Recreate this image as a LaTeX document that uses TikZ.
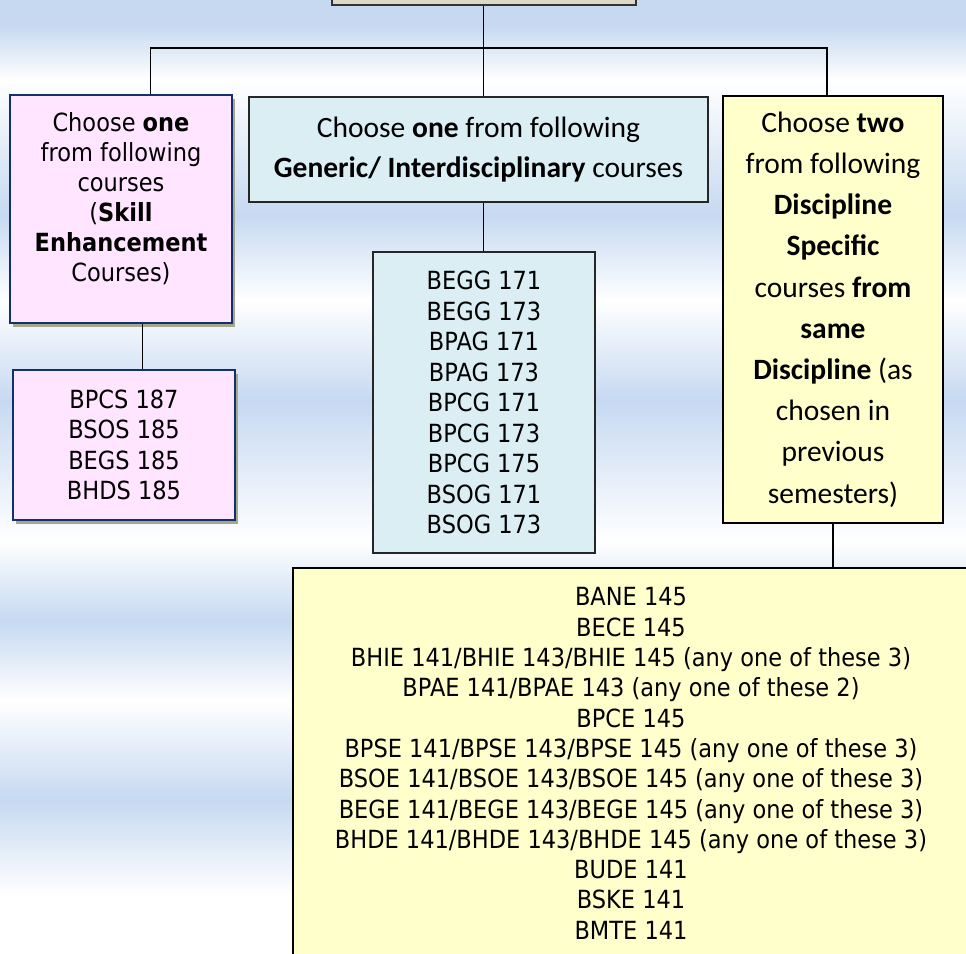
\documentclass[tikz,border=0pt]{standalone}
\usepackage{fontspec}
\setmainfont{DejaVu Sans}[FakeStretch=0.9]
\newfontfamily\calibri{Carlito}
\usetikzlibrary{shadows}
\definecolor{bgblue}{HTML}{C6D9F1}
\definecolor{pinkfill}{HTML}{FFE5FF}
\definecolor{navy}{HTML}{10306E}
\definecolor{shadowgray}{HTML}{A3A88E}
\definecolor{aquafill}{HTML}{DAEEF3}
\definecolor{lemonfill}{HTML}{FFFFCC}
\definecolor{beigefill}{HTML}{DDD9C3}

\begin{document}
\begin{tikzpicture}[x=1pt, y=-1pt, line width=1.75pt,
	skillbox/.style={draw=navy, line width=2pt, fill=pinkfill, drop shadow={shadow xshift=3pt, shadow yshift=-4pt, fill=shadowgray, opacity=1}},
	genbox/.style={draw=black!85, line width=2pt, fill=aquafill},
	discbox/.style={draw=black, line width=2pt, fill=lemonfill},
	tahomatext/.style={align=center, font=\fontsize{25}{30.3}\selectfont},
	calibritext/.style={align=center, font=\calibri\fontsize{29.5}{40}\selectfont}]
	% banded background
	\useasboundingbox (0,0) rectangle (966,953);
	\foreach \ya/\yb/\ca/\cb in {0/25/bgblue/bgblue, 25/80/bgblue/white, 80/215/white/bgblue, 215/300/bgblue/white, 300/400/white/bgblue, 400/540/bgblue/white, 540/620/white/bgblue, 620/700/bgblue/white, 700/800/white/bgblue, 800/895/bgblue/white, 895/953/white/white}
		\shade[top color=\ca, bottom color=\cb] (0,\ya) rectangle (966,{\yb+1});

	\node (top) at (483.5,-15) [draw=black!80, line width=2pt, fill=beigefill, minimum width=304pt, minimum height=40pt] {};

	\node (skill) at (121,209) [skillbox, minimum width=222pt, minimum height=228pt] {};
	\node (skilltext) at (121,199) [tahomatext, font=\fontsize{25}{30}\selectfont] {Choose \textbf{one}\\from following\\courses\\(\textbf{Skill}\\\textbf{Enhancement}\\Courses)};
	\node (skilllist) at (124,445) [skillbox, tahomatext, minimum width=222pt, minimum height=150pt] {BPCS 187\\BSOS 185\\BEGS 185\\BHDS 185};

	\node (generic) at (478.5,149.5) [genbox, calibritext, minimum width=459pt, minimum height=105pt] {Choose \textbf{one} from following\\\textbf{Generic/ Interdisciplinary} courses};
	\node (genericlist) at (484,402.5) [genbox, tahomatext, minimum width=222pt, minimum height=301pt, font=\fontsize{25}{30.5}\selectfont] {BEGG 171\\BEGG 173\\BPAG 171\\BPAG 173\\BPCG 171\\BPCG 173\\BPCG 175\\BSOG 171\\BSOG 173};

	\node (discipline) at (833,309.5) [discbox, calibritext, minimum width=220pt, minimum height=427pt, font=\calibri\fontsize{29.5}{41.2}\selectfont] {Choose \textbf{two}\\from following\\\textbf{Discipline}\\\textbf{Specific}\\courses \textbf{from}\\\textbf{same}\\\textbf{Discipline} (as\\chosen in\\previous\\semesters)};
	\node (disclist) at (631,763.5) [discbox, tahomatext, minimum width=676pt, minimum height=391pt] {BANE 145\\BECE 145\\BHIE 141/BHIE 143/BHIE 145 (any one of these 3)\\BPAE 141/BPAE 143 (any one of these 2)\\BPCE 145\\BPSE 141/BPSE 143/BPSE 145 (any one of these 3)\\BSOE 141/BSOE 143/BSOE 145 (any one of these 3)\\BEGE 141/BEGE 143/BEGE 145 (any one of these 3)\\BHDE 141/BHDE 143/BHDE 145 (any one of these 3)\\BUDE 141\\BSKE 141\\BMTE 141};

	\coordinate (busL) at (150.5,48);
	\coordinate (busM) at (483.5,48);
	\coordinate (busR) at (827,48);
	\coordinate (dropL) at (142.5,340);
	\draw (top.south) -- (busM);
	\draw (busL |- skill.north) |- (busR) -- (busR |- discipline.north);
	\draw (busM) -- (busM |- generic.north);
	\draw (dropL |- skill.south) -- (dropL |- skilllist.north);
	\draw (busM |- generic.south) -- (busM |- genericlist.north);
	\draw (discipline.south) -- (discipline.south |- disclist.north);
\end{tikzpicture}
\end{document}
